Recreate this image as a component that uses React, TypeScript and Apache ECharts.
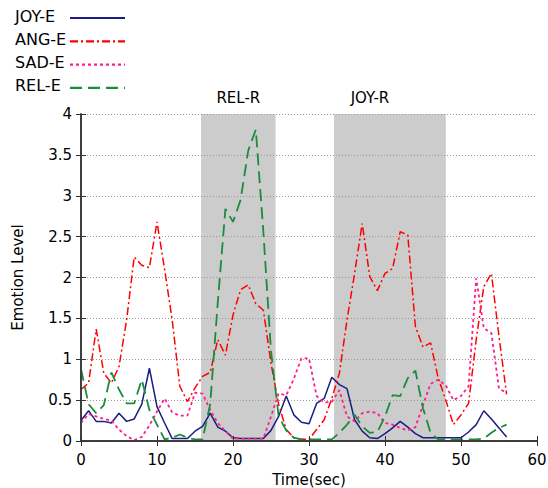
import React, { useEffect, useRef } from "react";
import * as echarts from "echarts";

const timeSec = [0,1,2,3,4,5,6,7,8,9,10,11,12,13,14,15,16,17,18,19,20,21,22,23,24,25,26,27,28,29,30,31,32,33,34,35,36,37,38,39,40,41,42,43,44,45,46,47,48,49,50,51,52,53,54,55,56];

const joyE = [0.25,0.37,0.24,0.24,0.22,0.34,0.24,0.27,0.45,0.89,0.42,0.22,0.03,0.03,0.03,0.12,0.18,0.34,0.17,0.12,0.04,0.03,0.03,0.03,0.03,0.13,0.3,0.55,0.32,0.23,0.21,0.46,0.52,0.78,0.69,0.64,0.26,0.12,0.04,0.03,0.09,0.16,0.24,0.17,0.09,0.04,0.04,0.04,0.04,0.04,0.04,0.11,0.2,0.37,0.27,0.16,0.05];

const angE = [0.63,0.71,1.37,0.83,0.71,0.91,1.48,2.25,2.15,2.12,2.68,2.1,1.48,0.67,0.48,0.65,0.79,0.84,1.24,1.05,1.54,1.85,1.91,1.68,1.6,0.95,0.45,0.14,0.04,0.02,0.02,0.14,0.26,0.52,0.83,1.48,2.05,2.66,2.01,1.84,2.05,2.11,2.56,2.52,1.4,1.15,1.2,0.77,0.5,0.2,0.32,0.46,1.24,1.89,2.05,1.28,0.57];

const sadE = [0.22,0.33,0.3,0.27,0.25,0.14,0.06,0.01,0.05,0.19,0.36,0.52,0.35,0.31,0.31,0.59,0.58,0.38,0.22,0.12,0.03,0.03,0.03,0.03,0.03,0.3,0.58,0.56,0.76,1.01,1.01,0.55,0.47,0.48,0.62,0.3,0.24,0.34,0.36,0.34,0.22,0.2,0.16,0.13,0.17,0.44,0.7,0.75,0.68,0.5,0.55,0.67,1.99,1.38,1.32,0.64,0.59];

const relE = [0.88,0.45,0.34,0.44,0.84,0.63,0.46,0.46,0.75,0.38,0.2,0.02,0.04,0.08,0.04,0.02,0.02,0.45,1.7,2.84,2.68,2.95,3.55,3.81,2.55,1.1,0.3,0.13,0.04,0.02,0.02,0.02,0.02,0.02,0.1,0.2,0.32,0.18,0.1,0.11,0.3,0.56,0.55,0.77,0.86,0.4,0.1,0.02,0.02,0.02,0.02,0.02,0.02,0.03,0.1,0.16,0.2];

const seriesNames = ["JOY-E", "ANG-E", "SAD-E", "REL-E"];
const regionNames = ["REL-R", "JOY-R"];
const regionStart = [15.8, 33.3];
const regionEnd = [25.6, 48.0];

const FONT = "DejaVu Sans";

const colors = ["#1c1c84", "#ff0000", "#ff1e8c", "#1a8c3c"];
const dashes: any[] = ["solid", [8, 3, 2, 3], [3, 3], [12, 6]];
const widths = [1.5, 1.5, 1.8, 1.8];

export default function App() {
  const ref = useRef<HTMLDivElement>(null);
  useEffect(() => {
    if (!ref.current) return;
    const chart = echarts.init(ref.current, null, { renderer: "svg" });
    const values = [joyE, angE, sadE, relE];
    const lineSeries = seriesNames.map((name, k) => ({
      name,
      type: "line",
      z: 3,
      symbol: "none",
      showSymbol: false,
      data: timeSec.map((t, i) => [t, values[k][i]]),
      lineStyle: { color: colors[k], width: widths[k], type: dashes[k] },
    }));
    const legendGraphics: any[] = [];
    seriesNames.forEach((name, k) => {
      const yc = 18 + k * 23.3;
      legendGraphics.push({
        type: "text",
        left: 15,
        top: yc - 10,
        style: { text: name, fill: "#000", font: `16px "${FONT}"` },
      });
      legendGraphics.push({
        type: "line",
        shape: { x1: 70, y1: yc, x2: 125, y2: yc },
        style: {
          stroke: colors[k],
          lineWidth: 2.2,
          lineDash: dashes[k] === "solid" ? null : dashes[k],
        },
      });
    });
    const option: any = {
      animation: false,
      textStyle: { fontFamily: FONT },
      grid: { left: 81, right: 11, top: 114, bottom: 47, outerBoundsMode: "none", containLabel: false },
      xAxis: [
        {
          type: "value",
          min: 0,
          max: 60,
          interval: 10,
          position: "bottom",
          z: 4,
          name: "Time(sec)",
          nameLocation: "middle",
          nameGap: 31,
          nameTextStyle: { fontSize: 15, color: "#000", fontFamily: FONT },
          axisLine: { show: true, lineStyle: { color: "#333", width: 1.5 } },
          axisTick: { show: true, inside: true, length: 5, lineStyle: { color: "#333" } },
          axisLabel: { fontSize: 15, color: "#000", margin: 11, fontFamily: FONT },
          splitLine: { show: false },
        },
        {
          type: "value",
          min: 0,
          max: 60,
          interval: 10,
          position: "top",
          z: 4,
          axisLine: { show: true, lineStyle: { color: "#333", width: 1.5 } },
          axisTick: { show: true, inside: true, length: 5, lineStyle: { color: "#333" } },
          axisLabel: { show: false },
          splitLine: { show: false },
        },
      ],
      yAxis: [
        {
          type: "value",
          min: 0,
          max: 4,
          interval: 0.5,
          position: "left",
          z: 2,
          name: "Emotion Level",
          nameLocation: "middle",
          nameGap: 56,
          nameTextStyle: { fontSize: 15, color: "#000", fontFamily: FONT },
          axisLine: { show: true, lineStyle: { color: "#333", width: 1.5 } },
          axisTick: { show: true, inside: true, length: 5, lineStyle: { color: "#333" } },
          axisLabel: { fontSize: 15, color: "#000", margin: 9, fontFamily: FONT },
          splitLine: { show: true, lineStyle: { color: "#999", type: [1, 2], width: 1 } },
        },
        {
          type: "value",
          min: 0,
          max: 4,
          interval: 0.5,
          position: "right",
          z: 4,
          axisLine: { show: true, lineStyle: { color: "#333", width: 1.5 } },
          axisTick: { show: true, inside: true, length: 5, lineStyle: { color: "#333" } },
          axisLabel: { show: false },
          splitLine: { show: false },
        },
      ],
      series: [
        {
          name: "regions",
          type: "line",
          z: 1,
          symbol: "none",
          data: [],
          markArea: {
            silent: true,
            itemStyle: { color: "rgba(0,0,0,0.2)" },
            label: {
              show: true,
              position: "top",
              distance: 9,
              color: "#000",
              fontSize: 15,
              fontFamily: FONT,
            },
            data: regionNames.map((n, i) => [
              { name: n, xAxis: regionStart[i], label: i === 1 ? { offset: [-20, 0] } : {} },
              { xAxis: regionEnd[i] },
            ]),
          },
        },
        ...lineSeries,
      ],
      graphic: legendGraphics,
    };
    chart.setOption(option);
    return () => chart.dispose();
  }, []);
  return <div ref={ref} style={{ width: 548, height: 488, position: "absolute", left: 0, top: 0 }} />;
}
